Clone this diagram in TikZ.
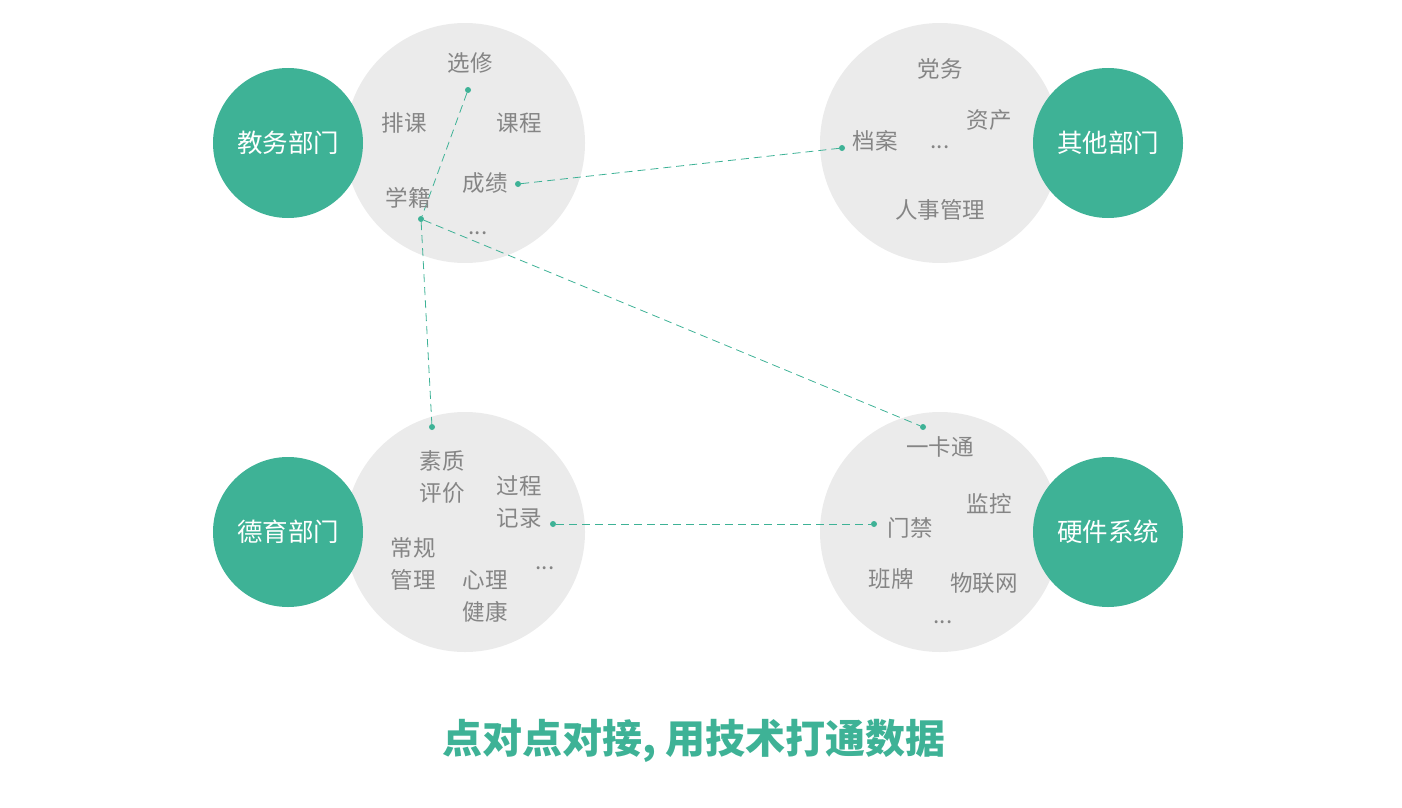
\documentclass[tikz,border=0pt]{standalone}
\usepackage{fontspec}
\setmainfont{Noto Sans CJK SC}
\definecolor{jade}{HTML}{3EB296}
\definecolor{mist}{HTML}{EBEBEB}
\definecolor{ink}{HTML}{858585}
\begin{document}
\begin{tikzpicture}[x=1pt,y=-1pt,
  field/.style={circle,fill=mist,minimum size=240pt,inner sep=0pt},
  dept/.style={circle,fill=jade,minimum size=150pt,inner sep=0pt,text=white,font=\fontsize{25.5}{30}\selectfont},
  item/.style={text=ink,font=\fontsize{22.5}{32}\selectfont,align=center,inner sep=0pt},
  dot/.style={circle,fill=jade,minimum size=6pt,inner sep=0pt},
  link/.style={jade,line width=.8pt,dash pattern=on 8pt off 5pt}]
\useasboundingbox (0,0) rectangle (1402,808);
% gray fields
\node[field] (jwf) at (465,143) {};
\node[field] (qtf) at (940,143) {};
\node[field] (dyf) at (465,532) {};
\node[field] (yjf) at (940,532) {};
% departments
\node[dept] (jw) at (288,143) {教务部门};
\node[dept] (qt) at (1108,143) {其他部门};
\node[dept] (dy) at (288,532) {德育部门};
\node[dept] (yj) at (1108,532) {硬件系统};
% dots
\node[dot] (xxd) at (468,90) {};
\node[dot] (cjd) at (518,184) {};
\node[dot] (xjd) at (421,219) {};
\node[dot] (dad) at (842,148) {};
\node[dot] (szd) at (432,427) {};
\node[dot] (jld) at (553,524) {};
\node[dot] (ykd) at (923,427) {};
\node[dot] (mjd) at (874,524) {};
% links
\draw[link] (xxd) -- (xjd);
\draw[link] (xjd) -- (szd);
\draw[link] (xjd) -- (ykd);
\draw[link] (cjd) -- (dad);
\draw[link] (jld) -- (mjd);
% items
\node[item] (xx) at (470,63) {选修};
\node[item] (pk) at (404,123) {排课};
\node[item] (kc) at (519,123) {课程};
\node[item] (cj) at (485,183) {成绩};
\node[item] (xj) at (408,198) {学籍};
\node[item] (jwm) at (478,233) {...};
\node[item] (dw) at (940,69) {党务};
\node[item] (zc) at (989,120) {资产};
\node[item] (da) at (875,141) {档案};
\node[item] (qtm) at (940,147) {...};
\node[item] (rs) at (940,210) {人事管理};
\node[item] (sz) at (442,477) {素质\\评价};
\node[item] (jl) at (519,502) {过程\\记录};
\node[item] (cg) at (413,564) {常规\\管理};
\node[item] (xl) at (485,596) {心理\\健康};
\node[item] (dym) at (545,568) {...};
\node[item] (yk) at (940,447) {一卡通};
\node[item] (jk) at (989,504) {监控};
\node[item] (mj) at (910,528) {门禁};
\node[item] (bp) at (891,579) {班牌};
\node[item] (wl) at (984,583) {物联网};
\node[item] (yjm) at (943,622) {...};
% title
\node[text=jade,font=\bfseries\fontsize{40}{44}\selectfont] (title) at (694,741) {点对点对接, 用技术打通数据};
\end{tikzpicture}
\end{document}
